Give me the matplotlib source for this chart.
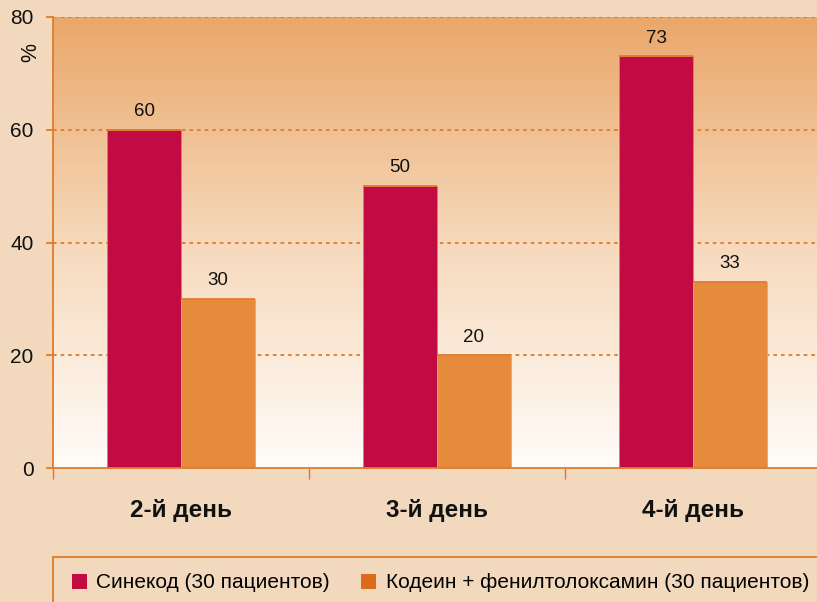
import numpy as np
import matplotlib
matplotlib.use("Agg")
import matplotlib.pyplot as plt
from matplotlib.patches import Patch
from matplotlib.lines import Line2D
from matplotlib.colors import LinearSegmentedColormap

categories = ["2-й день", "3-й день", "4-й день"]
sinekod = [60, 50, 73]
kodein = [30, 20, 33]
series_labels = ["Синекод (30 пациентов)", "Кодеин + фенилтолоксамин (30 пациентов)"]
yticks = [0, 20, 40, 60, 80]

plt.rcParams['font.family'] = ['Liberation Sans', 'DejaVu Sans']

BG = "#f2d8bc"
ORANGE_LINE = "#e07b2a"
C1 = "#c20b42"
C2 = "#e58b3b"

W, H = 817, 602
fig = plt.figure(figsize=(W / 100, H / 100), dpi=100, facecolor=BG)
ax = fig.add_axes([53 / W, 1 - 468 / H, (821 - 53) / W, (468 - 17) / H])
ax.set_facecolor(BG)

x = np.arange(len(categories))
bw = 0.289
ax.set_xlim(-0.5, len(categories) - 0.5)
ax.set_ylim(0, 80)

# gradient background
cmap = LinearSegmentedColormap.from_list("g", ["#fffcf9", "#f6d9bb", "#eaa76a"])
grad = np.linspace(0, 1, 256).reshape(-1, 1)
ax.imshow(grad, extent=[-0.5, len(categories) - 0.5, 0, 80], origin="lower",
          aspect="auto", cmap=cmap, zorder=0)

for yv in yticks[1:]:
    ax.axhline(yv, color=ORANGE_LINE, lw=1.3, ls=(0, (2, 2.2)), zorder=1)

b1 = ax.bar(x - bw / 2, sinekod, bw, color=C1, edgecolor="#e8708a", lw=0.6, zorder=2)
b2 = ax.bar(x + bw / 2, kodein, bw, color=C2, edgecolor="#f0a070", lw=0.6, zorder=2)
ax.hlines(sinekod, x - bw, x, color=ORANGE_LINE, lw=1.3, zorder=3)
ax.hlines(kodein, x, x + bw, color=ORANGE_LINE, lw=1.3, zorder=3)

for xi, v in zip(x - bw / 2, sinekod):
    ax.annotate(str(v), (xi, v), xytext=(0, 7), textcoords="offset points",
                ha="center", va="bottom", fontsize=13.5, color="#111111")
for xi, v in zip(x + bw / 2, kodein):
    ax.annotate(str(v), (xi, v), xytext=(0, 7), textcoords="offset points",
                ha="center", va="bottom", fontsize=13.5, color="#111111")

for s in ["top", "right"]:
    ax.spines[s].set_visible(False)
for s in ["left", "bottom"]:
    ax.spines[s].set_color(ORANGE_LINE)
    ax.spines[s].set_linewidth(1.3)

ax.set_yticks(yticks)
ax.set_yticklabels([str(v) for v in yticks], fontsize=15, color="#111111")
ax.tick_params(axis="y", length=5, width=1.3, color=ORANGE_LINE, pad=9)

ax.set_xticks(np.arange(len(categories) + 1) - 0.5)
ax.set_xticklabels([])
ax.tick_params(axis="x", length=8, width=1.0, color=ORANGE_LINE)
for xi, lab in zip(x, categories):
    ax.text(xi, -0.095, lab, transform=ax.get_xaxis_transform(), ha="center", va="center",
            fontsize=17.5, fontweight="bold", color="#111111")

fig.text(31 / W, 1 - 53 / H, "%", rotation=90, ha="center", va="center",
         fontsize=15.5, color="#111111")

# legend frame lines
fig.add_artist(Line2D([53 / W, 1.0], [1 - 557 / H] * 2, color=ORANGE_LINE, lw=1.3))
fig.add_artist(Line2D([53 / W, 53 / W], [1 - 557 / H, 0], color=ORANGE_LINE, lw=1.3))

handles = [Patch(facecolor=C1, edgecolor="none"), Patch(facecolor="#dc6c1c", edgecolor="none")]
fig.legend(handles, series_labels, loc="center left",
           bbox_to_anchor=(72 / W, 1 - 583 / H), ncol=2, frameon=False,
           fontsize=15, handlelength=0.72, handleheight=0.75, handletextpad=0.45,
           columnspacing=1.5, borderpad=0, borderaxespad=0)

fig.savefig("out.png", dpi=100, facecolor=BG)
